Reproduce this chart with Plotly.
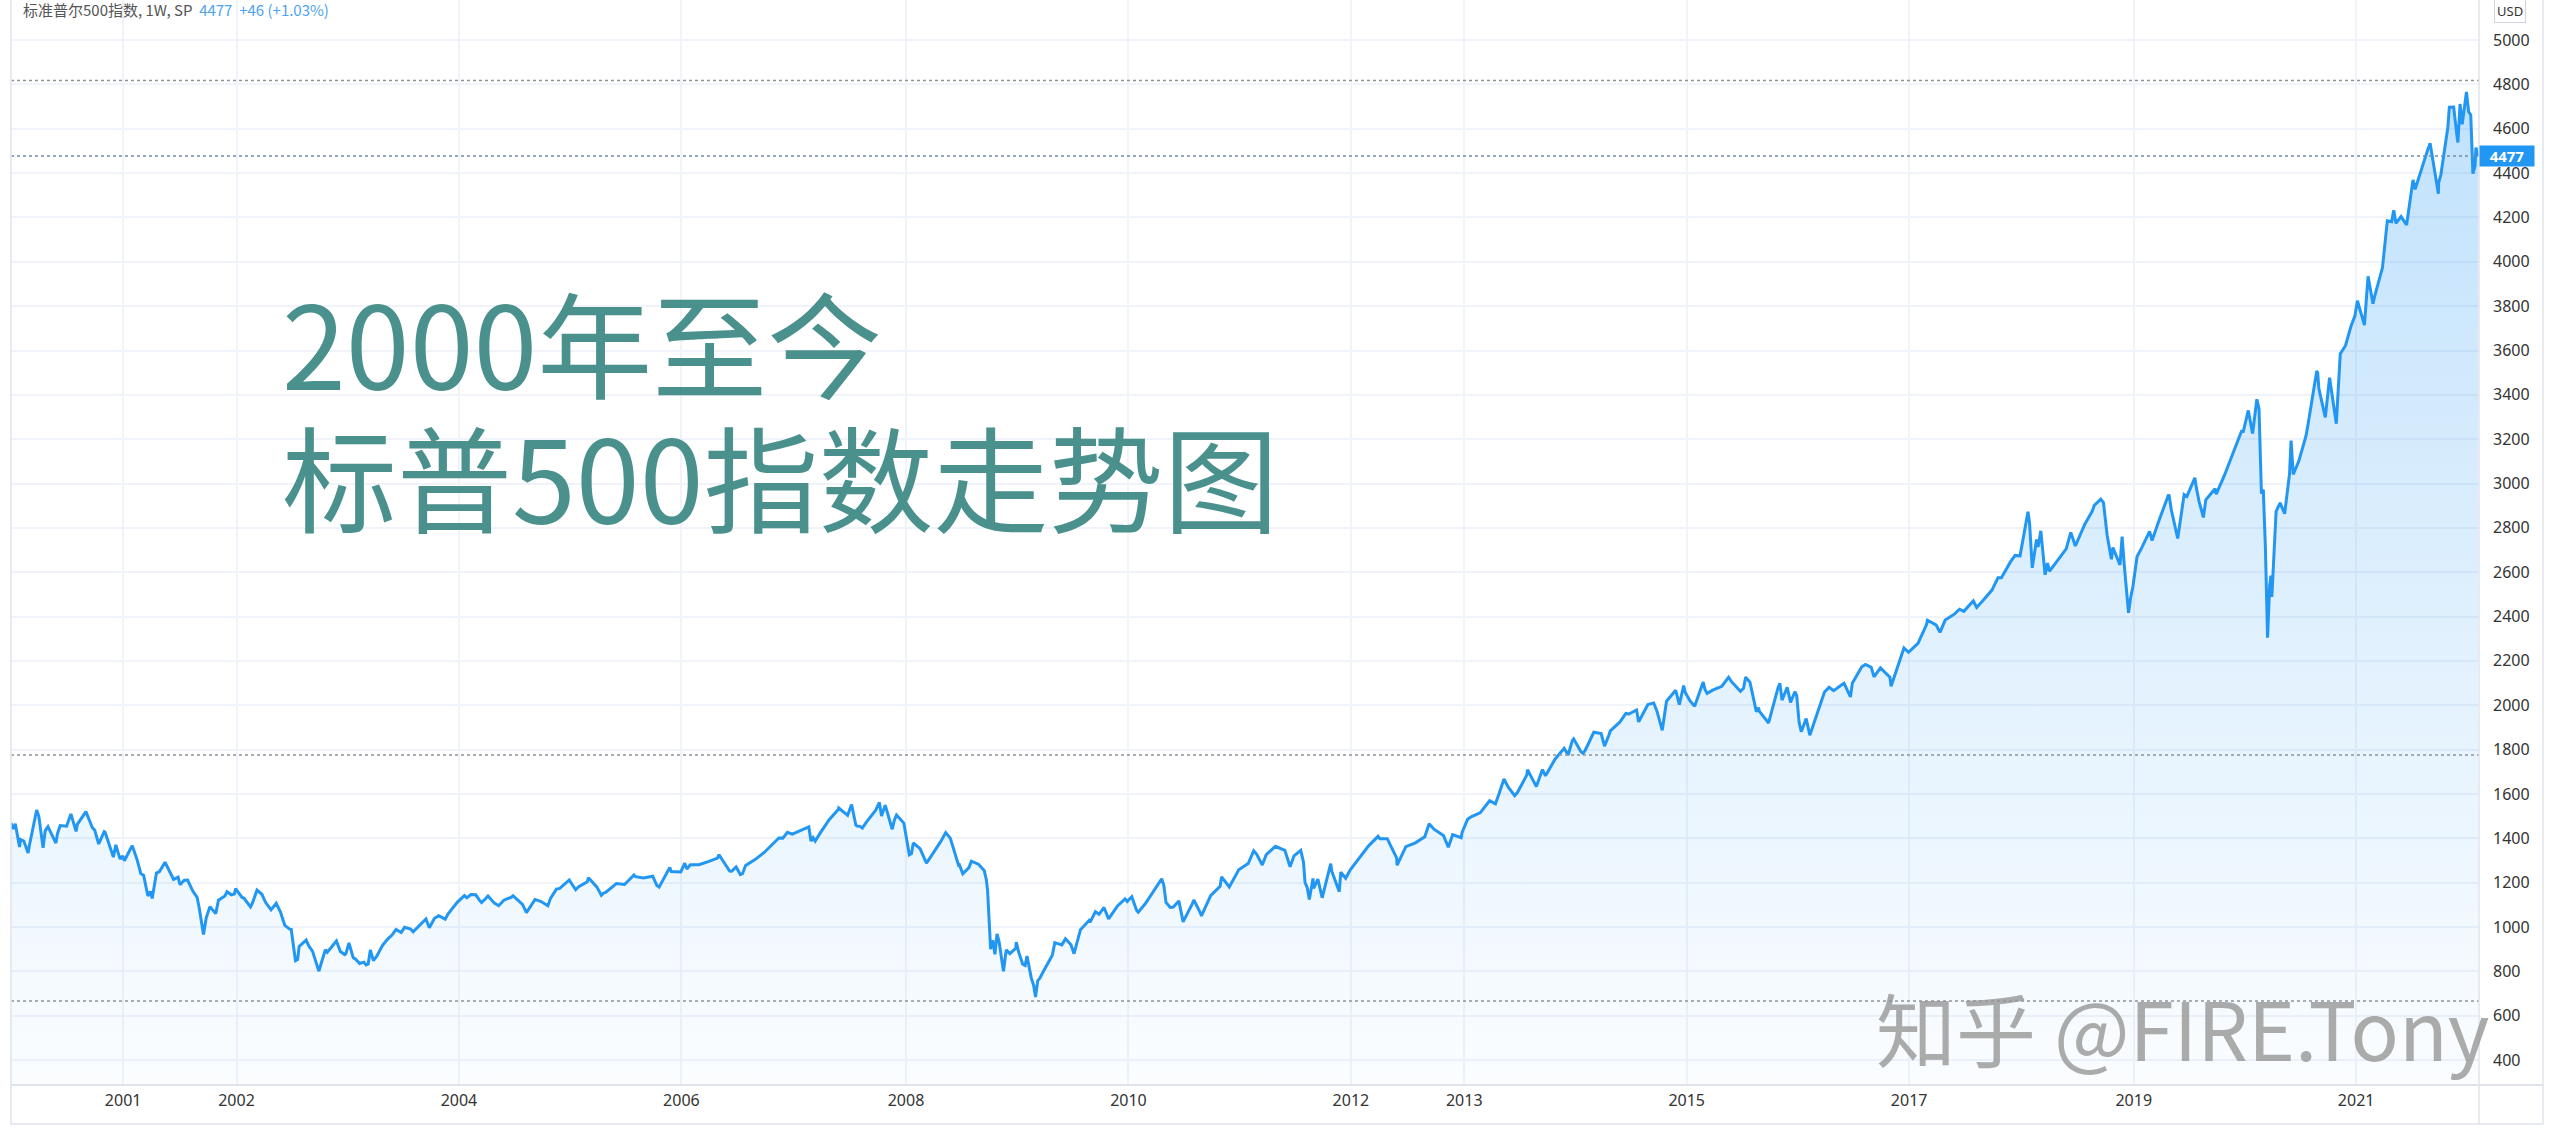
import pandas as pd
import plotly.graph_objects as go

# ---------------- DATA (S&P 500) ----------------
# Month-end closes, one list per year
m2000 = [1394.46, 1366.42, 1498.58, 1452.43, 1420.60, 1454.60, 1430.83, 1517.68, 1436.51, 1429.40, 1314.95, 1320.28]
m2001 = [1366.01, 1239.94, 1160.33, 1249.46, 1255.82, 1224.42, 1211.23, 1133.58, 1040.94, 1059.78, 1139.45, 1148.08]
m2002 = [1130.20, 1106.73, 1147.39, 1076.92, 1067.14, 989.82, 911.62, 916.07, 815.28, 885.76, 936.31, 879.82]
m2003 = [855.70, 841.15, 848.18, 916.92, 963.59, 974.50, 990.31, 1008.01, 995.97, 1050.71, 1058.20, 1111.92]
m2004 = [1131.13, 1144.94, 1126.21, 1107.30, 1120.68, 1140.84, 1101.72, 1104.24, 1114.58, 1130.20, 1173.82, 1211.92]
m2005 = [1181.27, 1203.60, 1180.59, 1156.85, 1191.50, 1191.33, 1234.18, 1220.33, 1228.81, 1207.01, 1249.48, 1248.29]
m2006 = [1280.08, 1280.66, 1294.83, 1310.61, 1270.09, 1270.20, 1276.66, 1303.82, 1335.85, 1377.94, 1400.63, 1418.30]
m2007 = [1438.24, 1406.82, 1420.86, 1482.37, 1530.62, 1503.35, 1455.27, 1473.99, 1526.75, 1549.38, 1481.14, 1468.36]
m2008 = [1378.55, 1330.63, 1322.70, 1385.59, 1400.38, 1280.00, 1267.38, 1282.83, 1166.36, 968.75, 896.24, 903.25]
m2009 = [825.88, 735.09, 797.87, 872.81, 919.14, 919.32, 987.48, 1020.62, 1057.08, 1036.19, 1095.63, 1115.10]
m2010 = [1073.87, 1104.49, 1169.43, 1186.69, 1089.41, 1030.71, 1101.60, 1049.33, 1141.20, 1183.26, 1180.55, 1257.64]
m2011 = [1286.12, 1327.22, 1325.83, 1363.61, 1345.20, 1320.64, 1292.28, 1218.89, 1131.42, 1253.30, 1246.96, 1257.60]
m2012 = [1312.41, 1365.68, 1408.47, 1397.91, 1310.33, 1362.16, 1379.32, 1406.58, 1440.67, 1412.16, 1416.18, 1426.19]
m2013 = [1498.11, 1514.68, 1569.19, 1597.57, 1630.74, 1606.28, 1685.73, 1632.97, 1681.55, 1756.54, 1805.81, 1848.36]
m2014 = [1782.59, 1859.45, 1872.34, 1883.95, 1923.57, 1960.23, 1930.67, 2003.37, 1972.29, 2018.05, 2067.56, 2058.90]
m2015 = [1994.99, 2104.50, 2067.89, 2085.51, 2107.39, 2063.11, 2103.84, 1972.18, 1920.03, 2079.36, 2080.41, 2043.94]
m2016 = [1940.24, 1932.23, 2059.74, 2065.30, 2096.95, 2098.86, 2173.60, 2170.95, 2168.27, 2126.15, 2198.81, 2238.83]
m2017 = [2278.87, 2363.64, 2362.72, 2384.20, 2411.80, 2423.41, 2470.30, 2471.65, 2519.36, 2575.26, 2647.58, 2673.61]
m2018 = [2823.81, 2713.83, 2640.87, 2648.05, 2705.27, 2718.37, 2816.29, 2901.52, 2913.98, 2711.74, 2760.17, 2506.85]
m2019 = [2704.10, 2784.49, 2834.40, 2945.83, 2752.06, 2941.76, 2980.38, 2926.46, 2976.74, 3037.56, 3140.98, 3230.78]
m2020 = [3225.52, 2954.22, 2584.59, 2912.43, 3044.31, 3100.29, 3271.12, 3500.31, 3363.00, 3269.96, 3621.63, 3756.07]
m2021 = [3714.24, 3811.15, 3972.89, 4181.17, 4204.11, 4297.50, 4395.26, 4522.68, 4307.54, 4605.38, 4567.00, 4766.18]
m2022 = [4515.55]

# Intra-month weekly closes (date, close)
w2000 = [("1999-12-31", 1469.25), ("2000-01-07", 1441.47), ("2000-01-14", 1465.15), ("2000-01-28", 1360.16),
         ("2000-02-11", 1387.12), ("2000-02-25", 1333.36), ("2000-03-24", 1527.46), ("2000-04-14", 1356.56),
         ("2000-04-21", 1434.54), ("2000-05-26", 1378.02), ("2000-06-09", 1456.95), ("2000-07-14", 1509.98),
         ("2000-08-04", 1462.93), ("2000-09-01", 1520.77), ("2000-09-22", 1448.72), ("2000-10-13", 1374.17),
         ("2000-11-03", 1426.69), ("2000-11-24", 1341.77), ("2000-12-08", 1369.89), ("2000-12-22", 1305.95)]
w2001 = [("2001-01-05", 1298.35), ("2001-01-26", 1354.95), ("2001-02-16", 1301.53), ("2001-03-09", 1233.42),
         ("2001-03-23", 1139.83), ("2001-04-06", 1128.43), ("2001-04-20", 1242.98), ("2001-05-18", 1291.96),
         ("2001-06-15", 1214.36), ("2001-07-06", 1190.59), ("2001-07-20", 1210.85), ("2001-08-17", 1161.97),
         ("2001-09-07", 1085.78), ("2001-09-21", 965.80), ("2001-10-12", 1091.65), ("2001-11-09", 1120.31),
         ("2001-12-07", 1158.31), ("2001-12-21", 1144.89)]
w2002 = [("2002-01-04", 1172.51), ("2002-01-25", 1133.28), ("2002-02-22", 1089.84), ("2002-03-15", 1166.16),
         ("2002-04-12", 1111.01), ("2002-05-17", 1106.59), ("2002-06-14", 1007.27), ("2002-07-05", 989.03),
         ("2002-07-19", 847.75), ("2002-07-26", 852.84), ("2002-08-23", 940.86), ("2002-09-13", 889.81),
         ("2002-10-04", 800.58), ("2002-10-11", 835.32), ("2002-10-25", 897.65), ("2002-12-13", 889.48),
         ("2002-12-27", 875.40)]
w2003 = [("2003-01-10", 927.57), ("2003-01-24", 861.40), ("2003-02-14", 834.89), ("2003-03-07", 828.89),
         ("2003-03-14", 833.27), ("2003-03-21", 895.79), ("2003-04-11", 868.30), ("2003-05-16", 944.30),
         ("2003-06-13", 988.61), ("2003-07-11", 998.14), ("2003-08-08", 977.59), ("2003-09-19", 1036.30),
         ("2003-10-17", 1039.32), ("2003-11-21", 1035.28), ("2003-12-19", 1088.66)]
w2004 = [("2004-01-23", 1141.55), ("2004-02-13", 1145.81), ("2004-03-12", 1120.57), ("2004-03-19", 1109.78),
         ("2004-04-09", 1139.32), ("2004-05-14", 1095.70), ("2004-06-25", 1134.43), ("2004-08-13", 1064.80),
         ("2004-09-10", 1123.92), ("2004-10-22", 1095.74), ("2004-11-19", 1170.34)]
w2005 = [("2005-01-21", 1167.87), ("2005-03-04", 1222.12), ("2005-04-15", 1142.62), ("2005-04-22", 1152.12),
         ("2005-06-03", 1196.02), ("2005-08-05", 1226.42), ("2005-10-14", 1186.57), ("2005-10-21", 1179.59),
         ("2005-11-25", 1268.25)]
w2006 = [("2006-01-13", 1287.61), ("2006-01-20", 1261.49), ("2006-05-05", 1325.76), ("2006-06-09", 1252.30),
         ("2006-06-16", 1251.54), ("2006-07-14", 1236.20), ("2006-07-21", 1240.29), ("2006-11-17", 1401.35),
         ("2006-12-15", 1427.09)]
w2007 = [("2007-02-23", 1451.19), ("2007-03-02", 1387.17), ("2007-03-09", 1402.84), ("2007-03-16", 1386.95),
         ("2007-06-01", 1536.34), ("2007-07-13", 1552.50), ("2007-07-27", 1458.95), ("2007-08-10", 1453.64),
         ("2007-08-17", 1445.94), ("2007-10-12", 1561.80), ("2007-10-19", 1500.63), ("2007-11-23", 1440.70),
         ("2007-12-07", 1504.66)]
w2008 = [("2008-01-18", 1325.19), ("2008-01-25", 1330.61), ("2008-02-22", 1353.11), ("2008-03-14", 1288.14),
         ("2008-05-16", 1425.35), ("2008-06-27", 1278.38), ("2008-07-11", 1239.49), ("2008-08-08", 1296.32),
         ("2008-09-19", 1255.08), ("2008-09-26", 1213.27), ("2008-10-10", 899.22), ("2008-10-17", 940.55),
         ("2008-10-24", 876.77), ("2008-11-07", 930.99), ("2008-11-21", 800.03), ("2008-12-12", 879.73)]
w2009 = [("2009-01-02", 931.80), ("2009-01-09", 890.35), ("2009-01-23", 831.95), ("2009-02-06", 868.60),
         ("2009-02-20", 770.05), ("2009-03-06", 683.38), ("2009-03-13", 756.55), ("2009-03-20", 768.54),
         ("2009-05-08", 929.23), ("2009-06-12", 946.21), ("2009-07-10", 879.13), ("2009-08-28", 1028.93),
         ("2009-09-18", 1068.30), ("2009-10-16", 1087.68), ("2009-12-24", 1126.48)]
w2010 = [("2010-01-15", 1136.03), ("2010-02-05", 1066.19), ("2010-04-23", 1217.28), ("2010-05-07", 1110.88),
         ("2010-05-21", 1087.69), ("2010-06-18", 1117.51), ("2010-07-02", 1022.58), ("2010-08-06", 1121.64),
         ("2010-08-27", 1064.59), ("2010-11-05", 1225.85), ("2010-11-26", 1189.40)]
w2011 = [("2011-02-18", 1343.01), ("2011-03-18", 1279.20), ("2011-06-17", 1271.50), ("2011-07-22", 1345.02),
         ("2011-08-05", 1199.38), ("2011-08-12", 1178.81), ("2011-08-19", 1123.53), ("2011-09-02", 1173.97),
         ("2011-09-16", 1216.01), ("2011-10-28", 1285.09), ("2011-11-25", 1158.67), ("2011-12-16", 1219.66)]
w2012 = [("2012-04-06", 1398.08), ("2012-06-01", 1278.04), ("2012-09-14", 1465.77), ("2012-11-16", 1359.88),
         ("2012-12-28", 1402.43)]
w2013 = [("2013-01-18", 1485.98), ("2013-04-19", 1555.25), ("2013-05-17", 1667.47), ("2013-06-21", 1592.43),
         ("2013-08-02", 1709.67), ("2013-09-20", 1709.91), ("2013-10-04", 1690.50), ("2013-12-13", 1775.32),
         ("2013-12-27", 1841.40)]
w2014 = [("2014-01-24", 1790.29), ("2014-02-07", 1797.02), ("2014-03-07", 1878.04), ("2014-04-11", 1815.69),
         ("2014-04-25", 1863.40), ("2014-06-20", 1962.87), ("2014-07-25", 1978.34), ("2014-08-01", 1925.15),
         ("2014-09-19", 2010.40), ("2014-10-17", 1886.76), ("2014-12-12", 2002.33), ("2014-12-26", 2088.77)]
w2015 = [("2015-01-16", 2019.42), ("2015-03-06", 2071.26), ("2015-03-13", 2053.40), ("2015-05-22", 2126.06),
         ("2015-07-10", 2076.62), ("2015-07-17", 2126.64), ("2015-08-21", 1970.89), ("2015-08-28", 1988.87),
         ("2015-09-25", 1931.34), ("2015-11-06", 2099.20), ("2015-11-13", 2023.04), ("2015-12-11", 2012.37),
         ("2015-12-25", 2060.99)]
w2016 = [("2016-01-08", 1922.03), ("2016-01-15", 1880.33), ("2016-02-12", 1864.78), ("2016-04-15", 2080.73),
         ("2016-06-03", 2099.13), ("2016-06-24", 2037.41), ("2016-08-12", 2184.05), ("2016-09-09", 2127.81),
         ("2016-11-04", 2085.18), ("2016-12-16", 2258.07)]
w2017 = [("2017-03-03", 2383.12), ("2017-04-13", 2328.95), ("2017-06-16", 2433.15), ("2017-08-11", 2441.32),
         ("2017-10-20", 2575.21), ("2017-12-15", 2675.81)]
w2018 = [("2018-01-26", 2872.87), ("2018-02-09", 2619.55), ("2018-02-23", 2747.30), ("2018-03-09", 2786.57),
         ("2018-03-23", 2588.26), ("2018-04-06", 2604.47), ("2018-06-15", 2779.66), ("2018-08-24", 2874.69),
         ("2018-09-21", 2929.67), ("2018-10-12", 2767.13), ("2018-10-26", 2658.69), ("2018-11-23", 2632.56),
         ("2018-12-07", 2633.08), ("2018-12-21", 2416.62), ("2018-12-28", 2485.74)]
w2019 = [("2019-01-04", 2531.94), ("2019-01-18", 2670.71), ("2019-03-08", 2743.07), ("2019-04-26", 2939.88),
         ("2019-05-03", 2945.64), ("2019-05-10", 2881.40), ("2019-06-21", 2950.46), ("2019-07-26", 3025.86),
         ("2019-08-09", 2918.65), ("2019-08-23", 2847.11), ("2019-10-04", 2952.01), ("2019-12-27", 3240.02)]
w2020 = [("2020-01-17", 3329.62), ("2020-02-14", 3380.16), ("2020-02-21", 3337.75), ("2020-03-06", 2972.37),
         ("2020-03-13", 2711.02), ("2020-03-20", 2304.92), ("2020-03-27", 2541.47), ("2020-04-03", 2488.65),
         ("2020-04-17", 2874.56), ("2020-05-15", 2863.70), ("2020-06-05", 3193.93), ("2020-06-12", 3041.31),
         ("2020-07-24", 3215.63), ("2020-08-28", 3508.01), ("2020-09-04", 3426.96), ("2020-09-25", 3298.46),
         ("2020-10-09", 3477.13), ("2020-11-13", 3585.15), ("2020-12-18", 3709.41)]
w2021 = [("2021-01-08", 3824.68), ("2021-02-12", 3934.83), ("2021-03-05", 3841.94), ("2021-04-16", 4185.47),
         ("2021-05-07", 4232.60), ("2021-05-14", 4173.85), ("2021-06-18", 4166.45), ("2021-07-09", 4369.55),
         ("2021-07-16", 4327.16), ("2021-08-27", 4509.37), ("2021-09-03", 4535.43), ("2021-10-01", 4357.04),
         ("2021-10-08", 4391.34), ("2021-11-05", 4697.53), ("2021-11-19", 4697.96), ("2021-12-03", 4538.43),
         ("2021-12-10", 4712.02), ("2021-12-17", 4620.64)]
w2022 = [("2022-01-07", 4677.03), ("2022-01-14", 4662.85), ("2022-01-21", 4397.94), ("2022-01-28", 4431.85),
         ("2022-02-07", 4477.00)]

# Reference levels (dotted lines) and header values
high_level = 4818
last_level = 4477
mid_level = 1775
low_level = 666
last_change = "+46 (+1.03%)"

year_ticks = ["2001-01-01", "2002-01-07", "2004-01-05", "2006-01-02", "2008-01-07", "2010-01-04",
              "2012-01-02", "2013-01-07", "2015-01-05", "2017-01-02", "2019-01-07", "2021-01-04"]
year_labels = ["2001", "2002", "2004", "2006", "2008", "2010", "2012", "2013", "2015", "2017", "2019", "2021"]
price_ticks = list(range(400, 5001, 200))

# ---------------- BUILD SERIES ----------------
monthly = (m2000 + m2001 + m2002 + m2003 + m2004 + m2005 + m2006 + m2007 + m2008 + m2009 + m2010 +
           m2011 + m2012 + m2013 + m2014 + m2015 + m2016 + m2017 + m2018 + m2019 + m2020 + m2021 + m2022)
month_idx = pd.date_range("2000-01-31", periods=len(monthly), freq="ME")
weekly = (w2000 + w2001 + w2002 + w2003 + w2004 + w2005 + w2006 + w2007 + w2008 + w2009 + w2010 +
          w2011 + w2012 + w2013 + w2014 + w2015 + w2016 + w2017 + w2018 + w2019 + w2020 + w2021 + w2022)
s = pd.concat([pd.Series(monthly, index=month_idx),
               pd.Series([v for _, v in weekly], index=pd.to_datetime([d for d, _ in weekly]))])
s = s[~s.index.duplicated(keep="last")].sort_index()

# ---------------- FIGURE ----------------
W, H = 2553, 1137
L, R, T, B = 11, 74, 0, 52
pw, ph = W - L - R, H - T - B

def px_x(p):
    return (p - L) / pw

def px_y(p):
    return (H - B - p) / ph

BLUE = "#2196f3"
GRID = "#f0f3fa"
BORDER = "#e0e3eb"

fig = go.Figure()
fig.add_trace(go.Scatter(
    x=s.index, y=s.values, mode="lines",
    line=dict(color=BLUE, width=3),
    fill="tozeroy",
    fillgradient=dict(type="vertical",
                      colorscale=[[0, "rgba(33,150,243,0.02)"], [1, "rgba(33,150,243,0.28)"]],
                      start=287, stop=4766),
    hoverinfo="x+y", showlegend=False,
))

shapes = []
for lvl, col in [(high_level, "#8f929b"), (last_level, "#6f8db0"), (mid_level, "#8f929b"), (low_level, "#8f929b")]:
    shapes.append(dict(type="line", xref="paper", yref="y", x0=0, x1=1, y0=lvl, y1=lvl,
                       line=dict(color=col, width=1.5, dash="dot")))
# frame and axis separators
shapes.append(dict(type="rect", xref="paper", yref="paper", x0=0, x1=px_x(2543), y0=px_y(1124), y1=1.05,
                   line=dict(color=BORDER, width=1.5), layer="above"))
shapes.append(dict(type="line", xref="paper", yref="paper", x0=0, x1=px_x(2543), y0=0, y1=0,
                   line=dict(color=BORDER, width=2)))
shapes.append(dict(type="line", xref="paper", yref="paper", x0=1, x1=1, y0=px_y(1124), y1=1.05,
                   line=dict(color=BORDER, width=1.5)))

TEAL = "#4a918d"
annotations = [
    dict(text="2000年至今", xref="paper", yref="paper", x=px_x(280), y=px_y(340), xanchor="left", yanchor="middle",
         showarrow=False, height=124, font=dict(family="Noto Sans CJK SC", size=115, color=TEAL)),
    dict(text="标普500指数走势图", xref="paper", yref="paper", x=px_x(280), y=px_y(474), xanchor="left",
         yanchor="middle", showarrow=False, height=124,
         font=dict(family="Noto Sans CJK SC", size=115, color=TEAL)),
    dict(text="知乎 @FIRE.Tony", xref="paper", yref="paper", x=px_x(2492), y=px_y(1026), xanchor="right",
         yanchor="middle", showarrow=False,
         font=dict(family="Noto Sans CJK SC", size=80, color="rgba(150,150,150,0.8)")),
    dict(text="标准普尔500指数, 1W, SP&nbsp;&nbsp;<span style='color:#4ca3ee'>%d&nbsp;&nbsp;%s</span>"
              % (last_level, last_change),
         xref="paper", yref="paper", x=px_x(21), y=px_y(10), xanchor="left", yanchor="middle", showarrow=False,
         font=dict(family="Noto Sans CJK SC", size=15, color="#555555")),
    dict(text="USD", xref="paper", yref="paper", x=px_x(2510), y=px_y(11), xanchor="center", yanchor="middle",
         showarrow=False, font=dict(family="Noto Sans", size=13, color="#333333"),
         bordercolor="#d1d4dc", borderwidth=1, borderpad=2, bgcolor="white"),
    dict(text="<b>%d</b>" % last_level, xref="paper", yref="y", x=1, y=last_level, xanchor="left",
         yanchor="middle", showarrow=False, font=dict(family="Noto Sans", size=15, color="white"),
         bgcolor=BLUE, width=52, height=18, borderpad=1),
]

fig.update_layout(
    width=W, height=H, autosize=False,
    margin=dict(l=L, r=R, t=T, b=B, pad=0),
    paper_bgcolor="white", plot_bgcolor="white",
    shapes=shapes, annotations=annotations,
    xaxis=dict(type="date", range=["1999-12-31", "2022-02-10"], tickvals=year_ticks, ticktext=year_labels,
               showgrid=True, gridcolor=GRID, gridwidth=1.5, zeroline=False, showline=False, ticks="",
               tickfont=dict(family="Noto Sans", size=16, color="#333333"), ticklabelstandoff=4,
               fixedrange=True),
    yaxis=dict(side="right", range=[287, 5181], tickvals=price_ticks, ticktext=[str(v) for v in price_ticks],
               showgrid=True, gridcolor=GRID, gridwidth=1.5, zeroline=False, showline=False, ticks="",
               tickfont=dict(family="Noto Sans", size=16, color="#333333"), ticklabelstandoff=13,
               fixedrange=True),
    showlegend=False,
)

fig.write_html("out.html", config={"displayModeBar": False},
               post_script="document.body.style.margin='0';document.body.style.overflow='hidden';")
